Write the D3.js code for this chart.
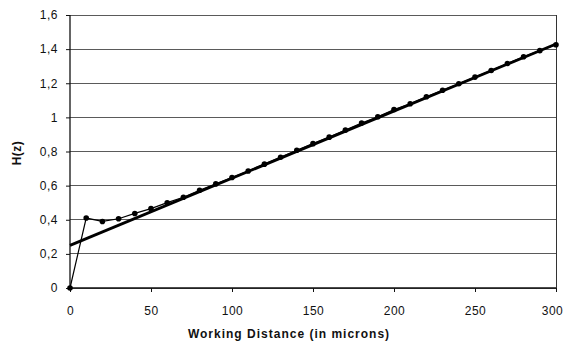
<!DOCTYPE html>
<html><head><meta charset="utf-8">
<script src="https://cdn.jsdelivr.net/npm/d3@7"></script>
<style>
html,body{margin:0;padding:0;background:#fff;}
svg{display:block;font-family:"Liberation Sans",Arial,sans-serif;}
</style></head>
<body><svg id="chart" width="565" height="345"></svg>
<script>
const distances = [0,10,20,30,40,50,60,70,80,90,100,110,120,130,140,150,160,170,180,190,200,210,220,230,240,250,260,270,280,290,300];
const hValues = [0,0.41,0.39,0.406,0.437,0.465,0.5,0.532,0.573,0.61,0.648,0.686,0.726,0.766,0.807,0.846,0.884,0.925,0.967,1.004,1.046,1.08,1.121,1.159,1.197,1.236,1.275,1.316,1.355,1.391,1.426];
const trendX = [0,300];
const trendY = [0.25,1.43];
const xTicks = [0,50,100,150,200,250,300];
const yTicks = [0,0.2,0.4,0.6,0.8,1,1.2,1.4,1.6];
const xTitle = "Working Distance (in microns)";
const yTitle = "H(z)";

const svg = d3.select("#chart");
const L=70, R=556, T=15, B=288;
const x = d3.scaleLinear().domain([0,300]).range([L,R]);
const y = d3.scaleLinear().domain([0,1.6]).range([B,T]);
const fmt = d => String(d).replace(".", ",");

// gridlines
svg.append("g").selectAll("line").data(yTicks).join("line")
  .attr("x1",L).attr("x2",R).attr("y1",d=>y(d)).attr("y2",d=>y(d))
  .attr("stroke","#5a5a5a").attr("stroke-width",1).attr("shape-rendering","crispEdges");
// right border
svg.append("line").attr("x1",R).attr("x2",R).attr("y1",T).attr("y2",B)
  .attr("stroke","#333").attr("stroke-width",1).attr("shape-rendering","crispEdges");

// axes
const yAxis = svg.append("g").attr("transform",`translate(${L},0)`)
  .call(d3.axisLeft(y).tickValues(yTicks).tickFormat(fmt).tickSize(4).tickPadding(8));
const xAxis = svg.append("g").attr("transform",`translate(0,${B})`)
  .call(d3.axisBottom(x).tickValues(xTicks).tickSize(4).tickPadding(14));
[yAxis,xAxis].forEach(g=>{
  g.select(".domain").attr("stroke","#111").attr("stroke-width",1.3);
  g.selectAll(".tick line").attr("stroke","#111");
  g.selectAll("text").attr("font-size",12).attr("fill","#111")
   .attr("font-family","'Liberation Sans',Arial,sans-serif").style("letter-spacing","0.5px");
});
xAxis.selectAll(".tick text").filter(d=>d===300).attr("dx",-4);
xAxis.select(".domain").attr("d",`M${L},0H${R}`);
yAxis.select(".domain").attr("d",`M0,${B}V${T}`);

// trend line
const trend = trendX.map((d,i)=>[d,trendY[i]]);
svg.append("path").datum(trend)
  .attr("d",d3.line().x(d=>x(d[0])).y(d=>y(d[1])))
  .attr("fill","none").attr("stroke","#000").attr("stroke-width",2.8);

// data line
const pts = distances.map((d,i)=>[d,hValues[i]]);
svg.append("path").datum(pts)
  .attr("d",d3.line().x(d=>x(d[0])).y(d=>y(d[1])))
  .attr("fill","none").attr("stroke","#000").attr("stroke-width",1.2);
svg.append("g").selectAll("circle").data(pts).join("circle")
  .attr("cx",d=>x(d[0])).attr("cy",d=>y(d[1])).attr("r",2.8).attr("fill","#000");

// titles
svg.append("text").attr("x",289).attr("y",338).attr("text-anchor","middle")
  .attr("font-size",12).attr("font-weight","bold").style("letter-spacing","1px")
  .attr("fill","#111").text(xTitle);
svg.append("text").attr("transform","translate(21,153) rotate(-90)").attr("text-anchor","middle")
  .attr("font-size",12).attr("font-weight","bold").style("letter-spacing","0.5px")
  .attr("fill","#111").text(yTitle);
</script></body></html>
